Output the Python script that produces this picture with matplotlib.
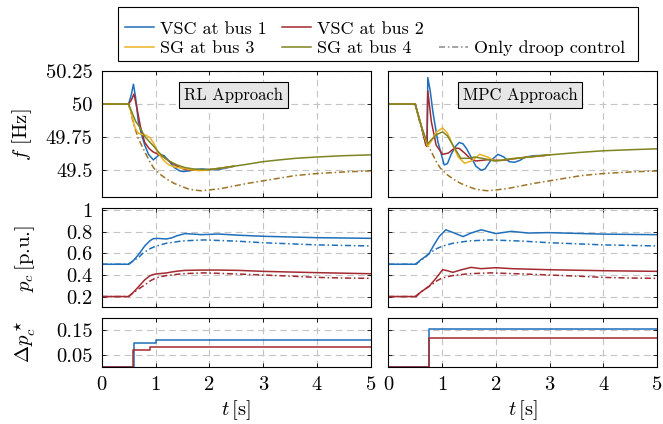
import matplotlib
matplotlib.use("Agg")
import matplotlib.pyplot as plt
from matplotlib.patches import Rectangle
from matplotlib.lines import Line2D

plt.rcParams.update({
    "font.family": "serif",
    "font.serif": ["cmr10"],
    "mathtext.fontset": "cm",
    "axes.formatter.use_mathtext": True,
    "axes.unicode_minus": False,
})

# colours of the four units
C_VSC1 = "#1f6fba"
C_VSC2 = "#a32a30"
C_SG3 = "#edb120"
C_SG4 = "#7d8420"
C_DROOP_F = "#9c7426"

# ---------------- frequency, RL approach ----------------
rl_t_vsc1 = [0, 0.5, 0.55, 0.59, 0.63, 0.68, 0.74, 0.8, 0.87, 0.96, 1.02, 1.08, 1.16, 1.25, 1.35, 1.45, 1.52, 1.62, 1.75, 1.86, 2.0, 2.17, 2.35, 2.45]
rl_f_vsc1 = [50, 50, 50.07, 50.15, 50.05, 49.87, 49.77, 49.69, 49.62, 49.578, 49.6, 49.62, 49.61, 49.57, 49.52, 49.495, 49.49, 49.495, 49.505, 49.51, 49.505, 49.505, 49.52, 49.53]
rl_t_vsc2 = [0, 0.5, 0.55, 0.6, 0.65, 0.72, 0.8, 0.88, 0.95, 1.05, 1.15, 1.25, 1.4, 1.55, 1.7, 1.85, 2.0, 2.2, 2.45]
rl_f_vsc2 = [50, 50, 50.03, 50.076, 49.98, 49.83, 49.71, 49.665, 49.64, 49.62, 49.6, 49.57, 49.53, 49.505, 49.5, 49.5, 49.505, 49.515, 49.53]
rl_t_sg3 = [0, 0.5, 0.55, 0.62, 0.68, 0.75, 0.82, 0.9, 0.97, 1.05, 1.15, 1.25, 1.35, 1.5, 1.65, 1.8, 1.95, 2.1, 2.3, 2.45]
rl_f_sg3 = [50, 50, 49.93, 49.82, 49.78, 49.77, 49.765, 49.745, 49.7, 49.63, 49.575, 49.54, 49.525, 49.515, 49.505, 49.497, 49.5, 49.51, 49.52, 49.53]
rl_t_sg4 = [0, 0.5, 0.55, 0.63, 0.7, 0.8, 0.9, 0.97, 1.05, 1.15, 1.25, 1.4, 1.55, 1.7, 1.85, 2.0, 2.2, 2.45, 2.7, 3.0, 3.3, 3.6, 4.0, 4.5, 5.0]
rl_f_sg4 = [50, 50, 49.95, 49.87, 49.83, 49.755, 49.71, 49.68, 49.64, 49.6, 49.57, 49.54, 49.52, 49.51, 49.505, 49.505, 49.515, 49.53, 49.545, 49.565, 49.578, 49.59, 49.6, 49.61, 49.616]

# ---------------- frequency, MPC approach ----------------
mpc_t_vsc1 = [0, 0.5, 0.61, 0.7, 0.72, 0.735, 0.78, 0.83, 0.92, 1.04, 1.1, 1.17, 1.25, 1.32, 1.39, 1.46, 1.54, 1.63, 1.73, 1.8, 1.9, 2.04, 2.15, 2.25, 2.35, 2.45, 2.55, 2.72, 2.9, 3.0]
mpc_f_vsc1 = [50, 50, 49.84, 49.69, 49.68, 50.2, 50.1, 49.94, 49.72, 49.54, 49.55, 49.62, 49.68, 49.71, 49.7, 49.66, 49.6, 49.53, 49.5, 49.51, 49.57, 49.62, 49.6, 49.565, 49.56, 49.575, 49.6, 49.61, 49.612, 49.616]
mpc_t_vsc2 = [0, 0.5, 0.61, 0.7, 0.72, 0.735, 0.8, 0.89, 1.01, 1.12, 1.23, 1.32, 1.42, 1.52, 1.63, 1.75, 1.85, 2.0, 2.16, 2.3, 2.5, 3.0]
mpc_f_vsc2 = [50, 50, 49.84, 49.69, 49.68, 50.1, 49.87, 49.69, 49.62, 49.63, 49.667, 49.665, 49.63, 49.59, 49.57, 49.575, 49.58, 49.575, 49.575, 49.585, 49.595, 49.616]
mpc_t_sg3 = [0, 0.5, 0.61, 0.73, 0.8, 0.9, 1.01, 1.1, 1.2, 1.3, 1.42, 1.55, 1.7, 1.85, 1.98, 2.1, 2.25, 2.5, 3.0]
mpc_f_sg3 = [50, 50, 49.84, 49.68, 49.72, 49.79, 49.82, 49.78, 49.69, 49.6, 49.553, 49.57, 49.62, 49.6, 49.57, 49.575, 49.585, 49.595, 49.616]
mpc_t_sg4 = [0, 0.5, 0.61, 0.73, 0.8, 0.9, 1.01, 1.1, 1.2, 1.35, 1.5, 1.6, 1.75, 1.98, 2.1, 2.25, 2.5, 3.0, 3.5, 4.0, 4.5, 5.0]
mpc_f_sg4 = [50, 50, 49.84, 49.70, 49.73, 49.77, 49.79, 49.76, 49.69, 49.59, 49.59, 49.60, 49.59, 49.57, 49.575, 49.585, 49.595, 49.616, 49.633, 49.647, 49.655, 49.662]

# frequency with droop control only (same in both panels)
droop_t_f = [0, 0.5, 0.6, 0.68, 0.8, 0.9, 0.97, 1.1, 1.22, 1.35, 1.47, 1.6, 1.72, 1.85, 1.97, 2.2, 2.45, 2.7, 3.0, 3.3, 3.6, 4.0, 4.5, 5.0]
droop_f = [50, 50, 49.84, 49.74, 49.64, 49.56, 49.515, 49.465, 49.43, 49.4, 49.38, 49.36, 49.35, 49.345, 49.35, 49.36, 49.38, 49.40, 49.42, 49.44, 49.46, 49.475, 49.487, 49.495]

# ---------------- converter power p_c ----------------
droop_t_p = [0, 0.5, 0.6, 0.7, 0.76, 0.85, 0.9, 1.0, 1.2, 1.5, 1.9, 2.5, 3.0, 3.5, 4.0, 4.5, 5.0]
droop_p_vsc1 = [0.5, 0.5, 0.535, 0.57, 0.6, 0.63, 0.645, 0.667, 0.695, 0.717, 0.726, 0.715, 0.70, 0.69, 0.68, 0.675, 0.67]
droop_p_vsc2 = [0.2, 0.2, 0.24, 0.275, 0.295, 0.325, 0.345, 0.372, 0.395, 0.412, 0.42, 0.41, 0.40, 0.39, 0.378, 0.372, 0.369]

rl_t_p = [0, 0.5, 0.6, 0.7, 0.8, 0.9, 0.96, 1.05, 1.2, 1.3, 1.4, 1.55, 1.86, 2.17, 2.54, 3.0, 4.0, 5.0]
rl_p_vsc1 = [0.5, 0.5, 0.54, 0.6, 0.67, 0.72, 0.738, 0.74, 0.735, 0.745, 0.765, 0.785, 0.775, 0.781, 0.77, 0.76, 0.747, 0.741]
rl_p_vsc2 = [0.2, 0.2, 0.245, 0.3, 0.355, 0.394, 0.405, 0.412, 0.419, 0.428, 0.436, 0.443, 0.446, 0.446, 0.443, 0.434, 0.422, 0.412]

mpc_t_p = [0, 0.52, 0.6, 0.7, 0.76, 0.85, 0.95, 1.07, 1.23, 1.39, 1.54, 1.73, 2.0, 2.29, 2.6, 2.97, 4.0, 5.0]
mpc_p_vsc1 = [0.5, 0.5, 0.54, 0.575, 0.6, 0.68, 0.76, 0.82, 0.79, 0.757, 0.79, 0.82, 0.785, 0.806, 0.79, 0.794, 0.78, 0.775]
mpc_t_p2 = [0, 0.52, 0.6, 0.7, 0.76, 0.89, 1.01, 1.1, 1.2, 1.37, 1.54, 1.73, 2.0, 2.3, 3.0, 4.0, 5.0]
mpc_p_vsc2 = [0.2, 0.2, 0.24, 0.275, 0.295, 0.372, 0.449, 0.44, 0.425, 0.45, 0.471, 0.459, 0.468, 0.459, 0.449, 0.44, 0.434]

# ---------------- setpoint change Δp_c* (step signals) ----------------
rl_t_dp1 = [0, 0.6, 1.0, 5.0]
rl_dp1 = [0, 0.099, 0.11, 0.11]
rl_t_dp2 = [0, 0.58, 0.89, 5.0]
rl_dp2 = [0, 0.068, 0.082, 0.082]
mpc_t_dp1 = [0, 0.75, 5.0]
mpc_dp1 = [0, 0.157, 0.157]
mpc_t_dp2 = [0, 0.75, 5.0]
mpc_dp2 = [0, 0.118, 0.118]

x_ticks = [0, 1, 2, 3, 4, 5]
f_ticks = [49.5, 49.75, 50, 50.25]
f_labels = ["49.5", "49.75", "50", "50.25"]
p_ticks = [0.2, 0.4, 0.6, 0.8, 1.0]
p_labels = ["0.2", "0.4", "0.6", "0.8", "1"]
dp_ticks = [0.05, 0.15]
dp_labels = ["0.05", "0.15"]

LW = 1.1
DASHDOT = (0, (4, 1.8, 1, 1.8))
W, H = 663, 424


def px_axes(x0, y0, x1, y1):
    # axes rectangle from pixel corners (y measured from the top)
    return [x0 / W, 1 - y1 / H, (x1 - x0) / W, (y1 - y0) / H]


def style(ax, yticks, ylabels, ylim, show_y, show_x):
    ax.set_xlim(0, 5)
    ax.set_ylim(*ylim)
    ax.set_xticks(x_ticks)
    ax.set_yticks(yticks)
    ax.set_yticklabels(ylabels if show_y else [])
    ax.set_xticklabels([str(v) for v in x_ticks] if show_x else [])
    ax.tick_params(direction="in", length=3, width=0.6, top=True, right=True,
                   labelsize=14.8, pad=6.5)
    ax.grid(True, color="#c4c4c4", linestyle=(0, (6, 4)), linewidth=0.8)
    ax.set_axisbelow(True)
    for s in ax.spines.values():
        s.set_linewidth(0.8)


fig = plt.figure(figsize=(W / 100, H / 100), dpi=100)

cols = [(101.7, 370.7), (388.3, 657.0)]
axes = {}
for j, (x0, x1) in enumerate(cols):
    axes[(0, j)] = fig.add_axes(px_axes(x0, 71, x1, 196.7))
    axes[(1, j)] = fig.add_axes(px_axes(x0, 208.3, x1, 307.3))
    axes[(2, j)] = fig.add_axes(px_axes(x0, 318.3, x1, 366.7))

freq_data = [
    [(rl_t_vsc1, rl_f_vsc1, C_VSC1), (rl_t_vsc2, rl_f_vsc2, C_VSC2),
     (rl_t_sg3, rl_f_sg3, C_SG3), (rl_t_sg4, rl_f_sg4, C_SG4)],
    [(mpc_t_vsc1, mpc_f_vsc1, C_VSC1), (mpc_t_vsc2, mpc_f_vsc2, C_VSC2),
     (mpc_t_sg3, mpc_f_sg3, C_SG3), (mpc_t_sg4, mpc_f_sg4, C_SG4)],
]
power_data = [
    [(rl_t_p, rl_p_vsc1, C_VSC1), (rl_t_p, rl_p_vsc2, C_VSC2)],
    [(mpc_t_p, mpc_p_vsc1, C_VSC1), (mpc_t_p2, mpc_p_vsc2, C_VSC2)],
]
step_data = [
    [(rl_t_dp1, rl_dp1, C_VSC1), (rl_t_dp2, rl_dp2, C_VSC2)],
    [(mpc_t_dp1, mpc_dp1, C_VSC1), (mpc_t_dp2, mpc_dp2, C_VSC2)],
]
titles = ["RL Approach", "MPC Approach"]

for j in range(2):
    ax = axes[(0, j)]
    ax.plot(droop_t_f, droop_f, color=C_DROOP_F, lw=LW, linestyle=DASHDOT)
    for t, v, c in freq_data[j]:
        ax.plot(t, v, color=c, lw=LW)
    style(ax, f_ticks, f_labels, (49.3, 50.25), j == 0, False)
    ax.text(0.49, 0.81, titles[j], transform=ax.transAxes, ha="center", va="center",
            fontsize=12, bbox=dict(boxstyle="square,pad=0.3", facecolor="#e6e6e6",
                                   edgecolor="black", linewidth=0.8))

    ax = axes[(1, j)]
    ax.plot(droop_t_p, droop_p_vsc1, color=C_VSC1, lw=LW, linestyle=DASHDOT)
    ax.plot(droop_t_p, droop_p_vsc2, color=C_VSC2, lw=LW, linestyle=DASHDOT)
    for t, v, c in power_data[j]:
        ax.plot(t, v, color=c, lw=LW)
    style(ax, p_ticks, p_labels, (0.1, 1.02), j == 0, False)

    ax = axes[(2, j)]
    for t, v, c in step_data[j]:
        ax.plot(t, v, color=c, lw=LW, drawstyle="steps-post")
    style(ax, dp_ticks, dp_labels, (0, 0.2), j == 0, True)
    ax.set_xlabel(r"$t\,$[s]", fontsize=14.8, labelpad=3)

# y labels placed at fixed pixel positions
fig.text(22 / W, 1 - 135 / H, r"$f$ [Hz]", rotation=90, ha="center", va="center", fontsize=14.8)
fig.text(25 / W, 1 - 259 / H, r"$p_c\,$[p.u.]", rotation=90, ha="center", va="center", fontsize=14.8)
fig.text(25 / W, 1 - 342 / H, r"$\Delta p_c^\star$", rotation=90, ha="center", va="center", fontsize=14.8)

# legend: column-major order so VSCs sit in the first row
blank = Line2D([], [], color="none")
handles = [
    Line2D([], [], color=C_VSC1, lw=LW),
    Line2D([], [], color=C_SG3, lw=LW),
    Line2D([], [], color=C_VSC2, lw=LW),
    Line2D([], [], color=C_SG4, lw=LW),
    blank,
    Line2D([], [], color="#8a8a8a", lw=LW, linestyle=DASHDOT),
]
labels = ["VSC at bus 1", "SG at bus 3", "VSC at bus 2", "SG at bus 4", "", "Only droop control"]
fig.legend(handles, labels, ncol=3, loc="center left", bbox_to_anchor=(124.8 / W, 1 - 38.5 / H),
           frameon=False, fontsize=13, handlelength=1.6, handletextpad=0.34,
           columnspacing=0.85, labelspacing=0.2, borderpad=0, borderaxespad=0)
fig.patches.append(Rectangle((117.7 / W, 1 - 61 / H), (638 - 117.7) / W, 54 / H,
                             transform=fig.transFigure, fill=False,
                             edgecolor="black", linewidth=0.8))

fig.savefig("out.png", dpi=100)
